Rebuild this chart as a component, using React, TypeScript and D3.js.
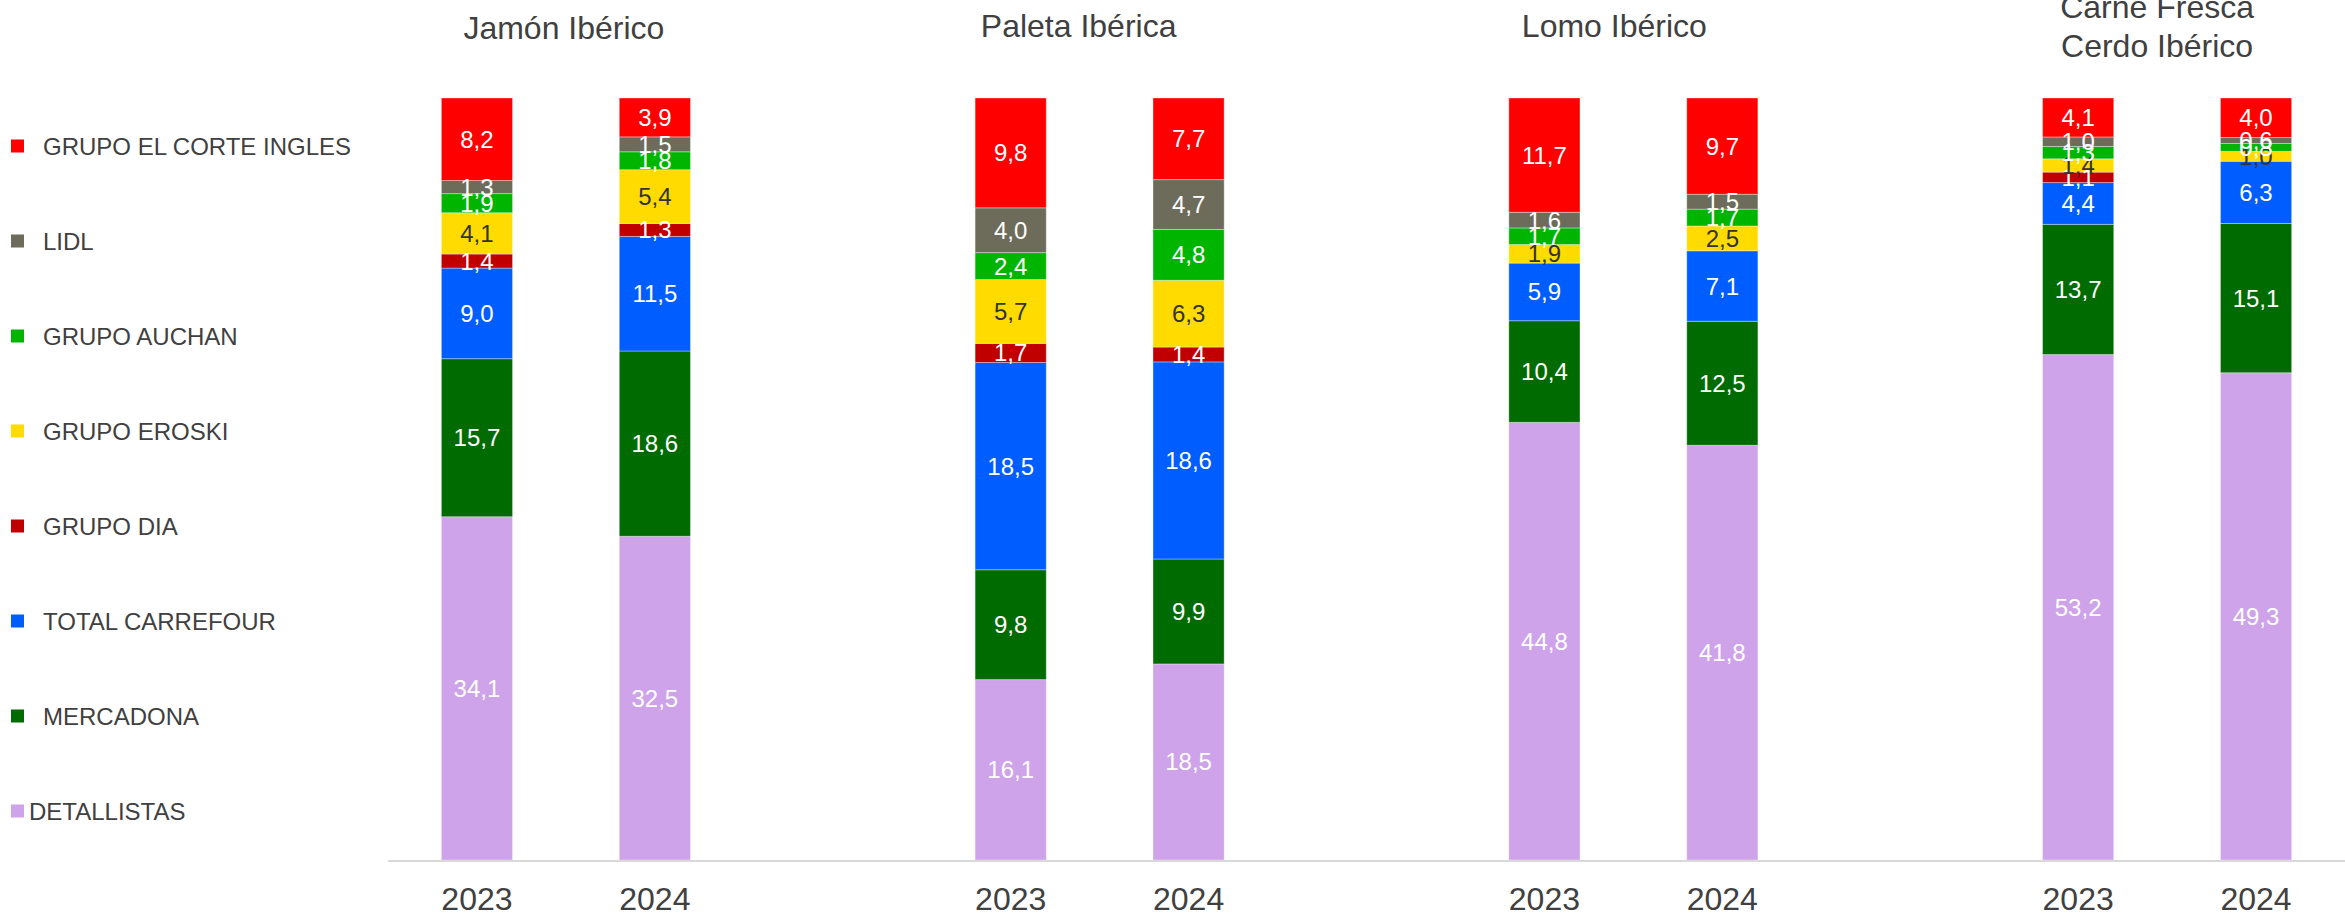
import React, { useEffect, useRef } from "react";
import * as d3 from "d3";

const groups = ["Jamón Ibérico", "Paleta Ibérica", "Lomo Ibérico", "Carne Fresca Cerdo Ibérico"];
const titleLines = [["Jamón Ibérico"], ["Paleta Ibérica"], ["Lomo Ibérico"], ["Carne Fresca", "Cerdo Ibérico"]];
const years = ["2023", "2024"];

// series, bottom to top
const seriesNames = [
  "DETALLISTAS",
  "MERCADONA",
  "TOTAL CARREFOUR",
  "GRUPO DIA",
  "GRUPO EROSKI",
  "GRUPO AUCHAN",
  "LIDL",
  "GRUPO EL CORTE INGLES",
];
const seriesColors = ["#cea3e9", "#006b00", "#005dff", "#c00000", "#ffdb00", "#00b500", "#6d6c5b", "#ff0000"];
const labelColors = ["#ffffff", "#ffffff", "#ffffff", "#ffffff", "#333333", "#ffffff", "#ffffff", "#ffffff"];

// values per bar (group, year), in series order bottom->top; null = no segment
const jamon2023 = [34.1, 15.7, 9.0, 1.4, 4.1, 1.9, 1.3, 8.2];
const jamon2024 = [32.5, 18.6, 11.5, 1.3, 5.4, 1.8, 1.5, 3.9];
const paleta2023 = [16.1, 9.8, 18.5, 1.7, 5.7, 2.4, 4.0, 9.8];
const paleta2024 = [18.5, 9.9, 18.6, 1.4, 6.3, 4.8, 4.7, 7.7];
const lomo2023 = [44.8, 10.4, 5.9, null, 1.9, 1.7, 1.6, 11.7];
const lomo2024 = [41.8, 12.5, 7.1, null, 2.5, 1.7, 1.5, 9.7];
const carne2023 = [53.2, 13.7, 4.4, 1.1, 1.4, 1.3, 1.0, 4.1];
const carne2024 = [49.3, 15.1, 6.3, null, 1.0, 0.8, 0.6, 4.0];

const barValues = [
  [jamon2023, jamon2024],
  [paleta2023, paleta2024],
  [lomo2023, lomo2024],
  [carne2023, carne2024],
];

// legend order top->bottom
const legendOrder = [7, 6, 5, 4, 3, 2, 1, 0];

const W = 2345;
const H = 916;
const FONT = "'Liberation Sans', Arial, sans-serif";
const titleDx = [-2, -21, -19, -10];
const titleY = [39, 37, 37, 18];

export default function App() {
  const ref = useRef<SVGSVGElement>(null);

  useEffect(() => {
    const svg = d3.select(ref.current);
    svg.selectAll("*").remove();

    const plotLeft = 388;
    const slot = (W - plotLeft) / 11;
    const x0 = d3.scaleBand<string>().domain(groups).range([plotLeft, plotLeft + slot * 12]).paddingInner(0).paddingOuter(0);
    const x1 = d3.scaleBand<string>().domain([...years, "gap"]).range([0, x0.bandwidth()]).paddingInner(0);
    const barW = x1.bandwidth() * 0.4;
    const y = d3.scaleLinear().domain([0, 1]).range([860, 98]);

    const fmt = (v: number) => d3.format(".1f")(v).replace(".", ",");

    groups.forEach((g, gi) => {
      years.forEach((yr, yi) => {
        const vals = barValues[gi][yi];
        const total = d3.sum(vals, (v) => (v == null ? 0 : v));
        const cx = (x0(g) as number) + (x1(yr) as number) + x1.bandwidth() / 2;
        let acc = 0;
        const bar = svg.append("g");
        vals.forEach((v, si) => {
          if (v == null) return;
          const y0 = y(acc / total);
          const y1 = y((acc + v) / total);
          acc += v;
          bar
            .append("rect")
            .attr("x", cx - barW / 2)
            .attr("width", barW)
            .attr("y", y1)
            .attr("height", y0 - y1)
            .attr("fill", seriesColors[si])
            .attr("stroke", "#ffffff")
            .attr("stroke-opacity", 0.35)
            .attr("stroke-width", 1);
        });
        acc = 0;
        vals.forEach((v, si) => {
          if (v == null) return;
          const y0 = y(acc / total);
          const y1 = y((acc + v) / total);
          acc += v;
          bar
            .append("text")
            .attr("x", cx)
            .attr("y", (y0 + y1) / 2)
            .attr("text-anchor", "middle")
            .attr("dominant-baseline", "central")
            .attr("font-family", FONT)
            .attr("font-size", 24)
            .attr("fill", labelColors[si])
            .text(fmt(v));
        });
        svg
          .append("text")
          .attr("x", cx)
          .attr("y", 910)
          .attr("text-anchor", "middle")
          .attr("font-family", FONT)
          .attr("font-size", 32)
          .attr("fill", "#404040")
          .text(yr);
      });

      // group center lies between the 2023 and 2024 bar centers
      const gc = (x0(g) as number) + x1.bandwidth() + titleDx[gi];
      const t = svg
        .append("text")
        .attr("x", gc)
        .attr("y", titleY[gi])
        .attr("text-anchor", "middle")
        .attr("font-family", FONT)
        .attr("font-size", 32)
        .attr("fill", "#404040");
      titleLines[gi].forEach((line, li) => {
        t.append("tspan").attr("x", gc).attr("dy", li === 0 ? 0 : 38.5).text(line);
      });
    });

    // axis line
    svg
      .append("line")
      .attr("x1", plotLeft)
      .attr("x2", W)
      .attr("y1", 861)
      .attr("y2", 861)
      .attr("stroke", "#d9d9d9")
      .attr("stroke-width", 2);

    // legend
    legendOrder.forEach((si, i) => {
      const cy = 146 + i * 95;
      svg
        .append("rect")
        .attr("x", 11)
        .attr("y", cy - 6.5)
        .attr("width", 13)
        .attr("height", 13)
        .attr("fill", seriesColors[si]);
      svg
        .append("text")
        .attr("x", si === 0 ? 29 : 43)
        .attr("y", cy)
        .attr("dominant-baseline", "central")
        .attr("font-family", FONT)
        .attr("font-size", 24)
        .attr("fill", "#404040")
        .text(seriesNames[si]);
    });
  }, []);

  return (
    <svg
      ref={ref}
      width={W}
      height={H}
      style={{ position: "absolute", left: 0, top: 0, background: "#ffffff" }}
    />
  );
}
